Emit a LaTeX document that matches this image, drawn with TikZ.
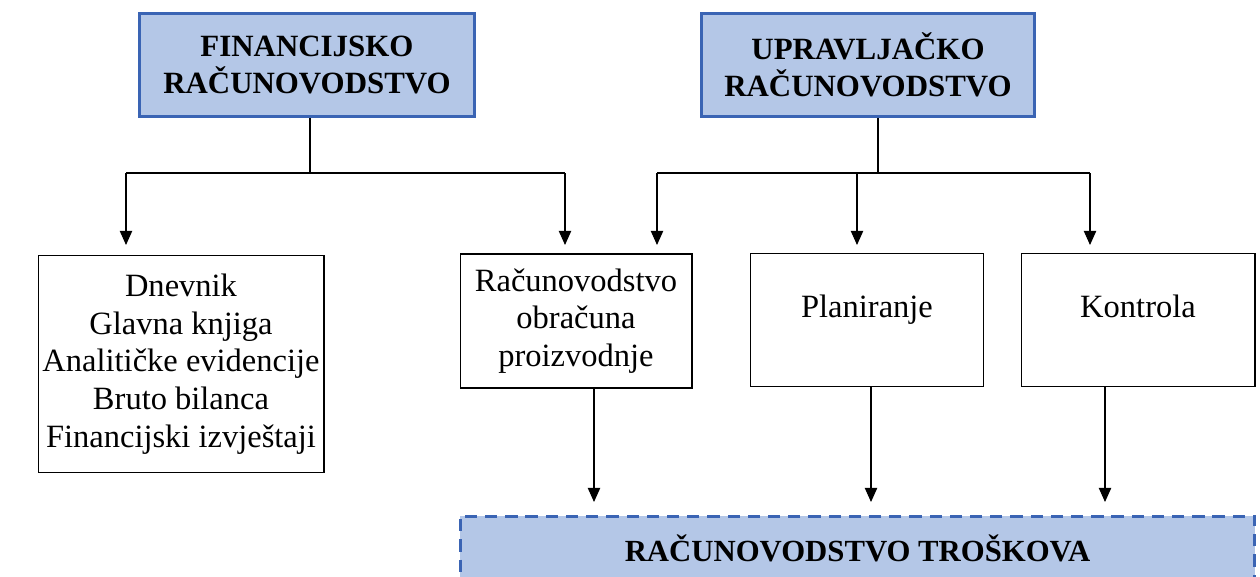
\documentclass[tikz,border=0pt]{standalone}
\usepackage{fontspec}
\setmainfont{Liberation Serif}
\usetikzlibrary{arrows.meta}

\definecolor{headfill}{HTML}{B4C7E7}
\definecolor{headline}{HTML}{3A64B4}

\begin{document}
\begin{tikzpicture}[x=0.02cm,y=-0.02cm,
    every node/.style={font=\fontsize{18.5}{21.5}\selectfont,align=center,inner sep=0pt},
    headbox/.style={draw=headline,line width=1.7pt,fill=headfill,font=\bfseries\fontsize{17.6}{21}\selectfont},
    itembox/.style={draw,line width=0.6pt},
    costbox/.style={draw=headline,line width=1.7pt,fill=headfill,dash pattern=on 7pt off 4.5pt},
    line/.style={line width=0.6pt},
    arr/.style={line width=0.6pt,-{Triangle[length=8pt,width=7pt]}}]

    \useasboundingbox (0,0) rectangle (1260,576);

    %==================== Top: the two accountings ====================
    \node[headbox,minimum width=6.7cm,minimum height=2.06cm] (fin) at (307,65)
      {FINANCIJSKO\\RAČUNOVODSTVO};
    \node[headbox,minimum width=6.66cm,minimum height=2.06cm] (upr) at (868,65)
      {UPRAVLJAČKO\\RAČUNOVODSTVO};

    %==================== Middle: the boxes ====================
    \node[itembox,minimum width=5.72cm,minimum height=4.34cm] (dnev) at (181,364)
      {Dnevnik\\Glavna knjiga\\Analitičke evidencije\\Bruto bilanca\\Financijski izvještaji};
    \node[itembox,minimum width=4.64cm,minimum height=2.68cm] (rob) at (576,321)
      {Računovodstvo\\obračuna\\proizvodnje};
    \node[itembox,minimum width=4.66cm,minimum height=2.66cm,text depth=16pt] (plan) at (867,320)
      {Planiranje};
    \node[itembox,minimum width=4.68cm,minimum height=2.66cm,text depth=16pt] (kont) at (1138,320)
      {Kontrola};

    %==================== Bottom: cost accounting ====================
    \node[costbox,minimum width=15.9cm,minimum height=1.28cm,font=\bfseries\fontsize{17.5}{21}\selectfont] (trosk) at (857.5,548)
      {RAČUNOVODSTVO TROŠKOVA};

    % Branch points and arrow tips
    \coordinate (fbl) at (126,173);
    \coordinate (fbr) at (565,173);
    \coordinate (ubl) at (657,173);
    \coordinate (ubr) at (1090,173);
    \coordinate (t1) at (126,245);
    \coordinate (t2) at (565,245);
    \coordinate (t3) at (657,245);
    \coordinate (t4) at (857,245);
    \coordinate (t5) at (1090,245);
    \coordinate (b1) at (594,502);
    \coordinate (b2) at (871,502);
    \coordinate (b3) at (1105,502);

    % Financial accounting branches
    \draw[line] (fin.south -| 310,0) -- (310,173);
    \draw[line] (fbl) -- (fbr);
    \foreach \t in {t1,t2} {
      \draw[arr] (\t |- fbl) -- (\t);
    }

    % Management accounting branches
    \draw[line] (upr.south -| 878,0) -- (878,173);
    \draw[line] (ubl) -- (ubr);
    \foreach \t in {t3,t4,t5} {
      \draw[arr] (\t |- ubl) -- (\t);
    }

    % Into cost accounting
    \draw[arr] (rob.south -| b1) -- (b1);
    \draw[arr] (plan.south -| b2) -- (b2);
    \draw[arr] (kont.south -| b3) -- (b3);

  \end{tikzpicture}
\end{document}
